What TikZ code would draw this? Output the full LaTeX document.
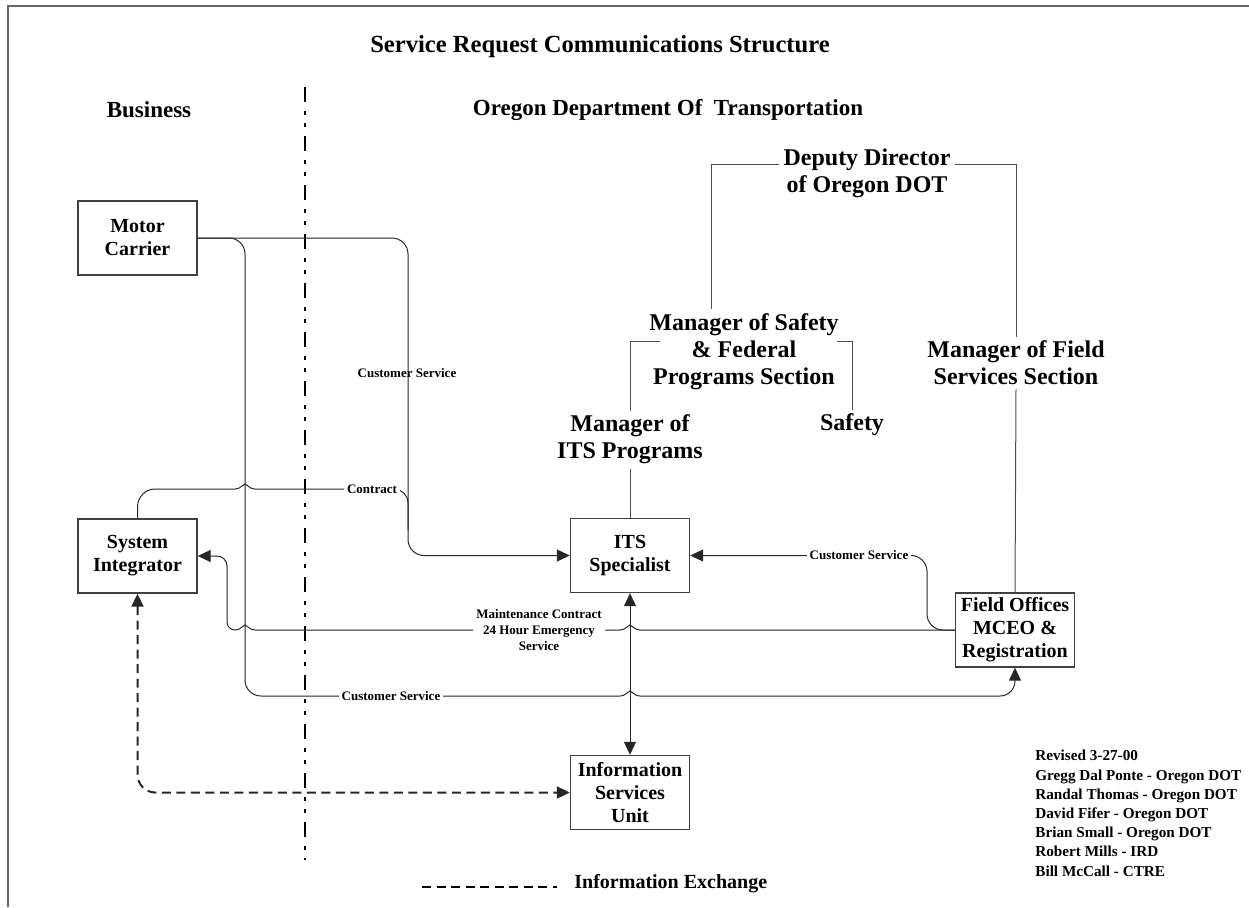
\documentclass[tikz,border=0pt]{standalone}
\usepackage{fontspec}
\setmainfont{Liberation Serif}
\usetikzlibrary{arrows.meta}

\tikzset{
    box/.style={draw=black!75, line width=0.7pt, minimum width=59.5pt, minimum height=37pt,
        inner sep=1pt, align=center, font=\fontsize{10}{11.5}\selectfont\bfseries},
    post/.style={align=center, inner sep=2pt, font=\fontsize{12}{13.5}\selectfont\bfseries},
    head/.style={font=\fontsize{11.5}{13}\selectfont\bfseries},
    tag/.style={fill=white, inner sep=1.5pt, align=center, font=\fontsize{6.5}{8}\selectfont\bfseries},
    link/.style={draw=black!85, line width=0.5pt},
    orgline/.style={draw=black!70, line width=0.5pt},
    tip/.style={-{Triangle[length=6.5pt, width=6pt]}},
    twotip/.style={{Triangle[length=6.5pt, width=6pt]}-{Triangle[length=6.5pt, width=6pt]}},
    infoline/.style={line width=1pt, dash pattern=on 4.5pt off 2.75pt},
    border/.style={dash pattern=on 7.5pt off 4.5pt on 2pt off 4pt on 2pt off 4.5pt, line width=1pt}
}

\begin{document}
\begin{tikzpicture}[x=0.5pt, y=0.5pt]
        \useasboundingbox (0, 0) rectangle (1249, -907);

        % page frame
        \draw [black!60, line width=1pt] (8, -907) -- (8, -6) -- (1249, -6);

        \node [head, font=\fontsize{12.3}{14}\selectfont\bfseries] (title) at (600, -47) {Service Request Communications Structure};
        \node [head] (business) at (149, -110) {Business};
        \node [head] (odot) at (668, -110) {Oregon Department Of\ \ Transportation};

        % business / ODOT divider
        \draw [border] (305, -87) -- (305, -860);

        \node [box] (mc) at (137.5, -238) {Motor\\Carrier};
        \node [box] (si) at (137.5, -556) {System\\Integrator};
        \node [box] (its) at (630, -555.5) {ITS\\Specialist};
        \node [box] (fo) at (1015, -630) {Field Offices\\MCEO \&\\Registration};
        \node [box] (isu) at (630, -792.5) {Information\\Services\\Unit};

        \node [post] (dep) at (867, -173) {Deputy Director\\of Oregon DOT};
        \node [post] (mos) at (744, -351.5) {Manager of Safety\\\& Federal\\Programs Section};
        \node [post] (mits) at (630, -439.5) {Manager of\\ITS Programs};
        \node [post] (safety) at (852, -425) {Safety};
        \node [post] (mfs) at (1016, -363) {Manager of Field\\Services Section};

        % reporting lines
        \draw [orgline] ([yshift=4.5pt]dep.west) -| ([xshift=-16.5pt]mos.north);
        \draw [orgline] ([yshift=4.5pt]dep.east) -| (mfs.north);
        \draw [orgline] ([xshift=-42pt, yshift=5.25pt]mos.center) -| (mits.north);
        \draw [orgline] ([xshift=46.5pt, yshift=5.25pt]mos.center) -| (safety.north);
        \draw [orgline] (mits.south) -- (its.north);
        \draw [orgline] (mfs.south) -- (fo.north);

        % motor carrier -> ITS specialist
        \draw [link, tip, rounded corners=8pt] (mc.east) -- (408, -238) -- (408, -555.5) -- (its.west);
        \node [tag, fill=none] (cs1) at (407, -373) {Customer Service};

        % motor carrier -> field offices, jumps the ITS line
        \draw [link, tip] (mc.east) -- (229, -238) to[out=0, in=90] (245, -254) -- (245, -680)
            to[out=-90, in=180] (261, -696) -- (620, -696)
            to[out=0, in=-150] (630, -691) to[out=-30, in=180] (640, -696) -- (1000, -696)
            to[out=0, in=-90] (1015, -681) -- (fo.south);
        \node [tag] (cs2) at (391, -696) {Customer Service};

        % system integrator contract, joins the ITS line
        \draw [link] (si.north) -- (137.5, -507) to[out=90, in=180] (155, -489) -- (235, -489)
            to[out=0, in=-150] (245, -484) to[out=-30, in=180] (255, -489) -- (394, -489)
            to[out=0, in=90] (408, -503) -- (408, -530);
        \node [tag] (contract) at (372, -489) {Contract};

        % field offices -> system integrator
        \draw [link, tip] (fo.west) -- (640, -630) to[out=180, in=-30] (630, -625) to[out=-150, in=0] (620, -630)
            -- (255, -630) to[out=180, in=-30] (245, -625) to[out=-150, in=0] (235, -630)
            to[out=180, in=-90] (227, -622) -- (227, -566) to[out=90, in=0] (217, -556) -- (si.east);
        \node [tag] (maint) at (539, -630) {Maintenance Contract\\24 Hour Emergency\\Service};

        % field offices -> ITS specialist
        \draw [link, tip, rounded corners=8pt] (fo.west) -- (927, -630) -- (927, -555.5) -- (its.east);
        \node [tag] (cs3) at (859, -555.5) {Customer Service};

        \draw [link, twotip] (its.south) -- (isu.north);
        \draw [link, twotip, infoline, rounded corners=9pt] (si.south) -- (137.5, -792.5) -- (isu.west);

        % legend
        \coordinate (lg) at (422, -886.5);
        \draw [infoline] (lg) -- ++(135, 0);
        \node [anchor=west, inner sep=0pt, font=\fontsize{10}{12}\selectfont\bfseries] (lgtext) at (574, -884) {Information Exchange};

        \node [anchor=north west, inner sep=0pt, align=left, font=\fontsize{7.6}{9.6}\selectfont\bfseries] (rev) at (1035, -750) {Revised 3-27-00\\Gregg Dal Ponte - Oregon DOT\\Randal Thomas - Oregon DOT\\David Fifer - Oregon DOT\\Brian Small - Oregon DOT\\Robert Mills - IRD\\Bill McCall - CTRE};

    \end{tikzpicture}
\end{document}
